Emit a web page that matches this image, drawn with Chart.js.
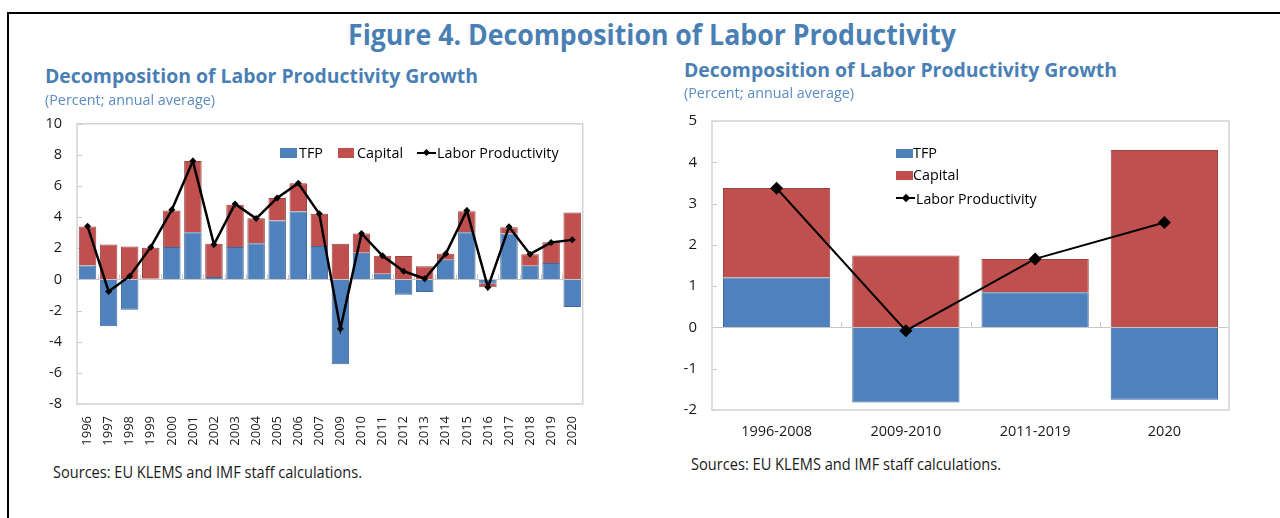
<!DOCTYPE html>
<html><head><meta charset="utf-8">
<script src="https://cdn.jsdelivr.net/npm/chart.js@4.4.1/dist/chart.umd.min.js"></script>
<style>
html,body{margin:0;padding:0;background:#fff;width:1280px;height:518px;overflow:hidden;font-family:'Open Sans',sans-serif;}
#frameTop{position:absolute;left:7px;top:11.7px;width:1273px;height:2px;background:#000;}
#frameLeft{position:absolute;left:7.3px;top:11.7px;width:2px;height:507px;background:#000;}
.t{position:absolute;white-space:nowrap;line-height:1;transform-origin:0 0;}
.cv{position:absolute;}
.sw{position:absolute;}
.ls{position:absolute;height:2px;background:#000;}
.ld{position:absolute;background:#000;transform:rotate(45deg);}
</style></head><body>
<div id="frameTop"></div><div id="frameLeft"></div>
<canvas id="c1" class="cv" width="580" height="358" style="left:20px;top:100px;width:580px;height:358px"></canvas>
<canvas id="c2" class="cv" width="590" height="353" style="left:660px;top:97px;width:590px;height:353px"></canvas>
<script>
// ---------- data ----------
const years = ['1996','1997','1998','1999','2000','2001','2002','2003','2004','2005','2006','2007',
               '2009','2010','2011','2012','2013','2014','2015','2016','2017','2018','2019','2020'];
const tfpYear     = [0.9,-3.0,-1.94,0.04,2.09,3.03,0.15,2.09,2.33,3.78,4.36,2.14,
                     -5.45,1.71,0.36,-0.98,-0.81,1.26,3.03,-0.28,2.95,0.88,1.05,-1.77];
const capitalYear = [2.5,2.24,2.12,1.99,2.33,4.57,2.14,2.7,1.6,1.45,1.82,2.07,
                     2.29,1.24,1.16,1.5,0.85,0.39,1.35,-0.22,0.4,0.74,1.34,4.29];
const lpYear      = [3.42,-0.77,0.21,2.07,4.47,7.6,2.24,4.85,3.91,5.23,6.18,4.21,
                     -3.16,2.95,1.52,0.53,0.04,1.65,4.42,-0.51,3.38,1.62,2.37,2.54];
const yTicksLeft = {min:-8, max:10, step:2};

const periods = ['1996-2008','2009-2010','2011-2019','2020'];
const tfpPeriod     = [1.21,-1.82,0.85,-1.75];
const capitalPeriod = [2.17,1.74,0.81,4.3];
const lpPeriod      = [3.37,-0.08,1.66,2.54];
const yTicksRight = {min:-2, max:5, step:1};

const seriesNames = ['TFP','Capital','Labor Productivity'];

// ---------- styles ----------
const BLUE='#4F81BD', RED='#C0504D', TITLE='#4a7fb5', SUB='#5b8cc2';
const FONT="'Open Sans', sans-serif";

// ---------- text helper ----------
const mctx=document.createElement('canvas').getContext('2d');
function placeText(txt,x,baseline,width,cap,weight,color){
  const size=cap/0.714;
  mctx.font=`${weight} ${size}px ${FONT}`;
  const w=mctx.measureText(txt).width;
  const el=document.createElement('div');
  el.className='t'; el.textContent=txt;
  el.style.fontFamily=FONT; el.style.fontWeight=weight; el.style.fontSize=size+'px';
  el.style.lineHeight='1'; el.style.color=color;
  el.style.left=x+'px'; el.style.top=(baseline-0.888*size)+'px';
  el.style.transform=`scaleX(${width/w})`;
  document.body.appendChild(el);
}
placeText('Figure 4. Decomposition of Labor Productivity',348,46.5,608,21,700,TITLE);
placeText('Decomposition of Labor Productivity Growth',45,84,433,13.5,700,TITLE);
placeText('(Percent; annual average)',45,105.5,170,10.3,400,SUB);
placeText('Decomposition of Labor Productivity Growth',684,77.5,433,13.5,700,TITLE);
placeText('(Percent; annual average)',684,98.5,170,10.3,400,SUB);
placeText('Sources: EU KLEMS and IMF staff calculations.',53,479,309,11,400,'#1a1a1a');
placeText('Sources: EU KLEMS and IMF staff calculations.',691,470.5,310,11,400,'#1a1a1a');

function box(cls,x,y,w,h,bg){const d=document.createElement('div');d.className=cls;
  d.style.left=x+'px';d.style.top=y+'px';d.style.width=w+'px';d.style.height=h+'px';
  if(bg)d.style.background=bg;document.body.appendChild(d);}
// left legend
box('sw',280,148.3,16.7,10,BLUE);
placeText(seriesNames[0],298.5,158.5,24,10.8,400,'#000');
box('sw',337.7,148.3,16.7,10,RED);
placeText(seriesNames[1],356.7,158.5,46,10.8,400,'#000');
box('ls',416.7,152.3,19,2); box('ld',423.5,150.3,5,5);
placeText(seriesNames[2],436.7,158.5,121.6,10.8,400,'#000');
// right legend
box('sw',896,148.5,16.5,9.5,BLUE);
placeText(seriesNames[0],913,158.5,24,10.8,400,'#000');
box('sw',896,170.8,16.5,9.5,RED);
placeText(seriesNames[1],913,180.8,46,10.8,400,'#000');
box('ls',896,197.3,19,2); box('ld',902.5,194.8,6,6);
placeText(seriesNames[2],916,204.5,120.7,10.8,400,'#000');

// ---------- chart plugin: plot box, zero-line ticks, inward y ticks ----------
const framePlugin={
  id:'frame',
  beforeDatasetsDraw(chart){
    const {ctx,chartArea:a,scales:{x,y}}=chart;
    ctx.save();
    ctx.strokeStyle='#c8c8c8';ctx.lineWidth=1;
    const y0=y.getPixelForValue(0);
    const n=chart.data.labels.length;
    ctx.beginPath();
    for(let i=0;i<n-1;i++){
      const xb=Math.round((x.getPixelForValue(i)+x.getPixelForValue(i+1))/2)+0.5;
      ctx.moveTo(xb,y0);ctx.lineTo(xb,y0-5);
    }
    y.ticks.forEach(t=>{const py=Math.round(y.getPixelForValue(t.value))+0.5;
      ctx.moveTo(a.left,py);ctx.lineTo(a.left+5,py);});
    ctx.stroke();ctx.restore();
  },
  afterDraw(chart){
    const {ctx,chartArea:a}=chart;
    ctx.save();ctx.strokeStyle='#d3d3d3';ctx.lineWidth=1.5;
    ctx.strokeRect(a.left,a.top,a.right-a.left,a.bottom-a.top);ctx.restore();
  }
};

function makeChart(id,labels,tfp,cap,lp,yt,cfg){
  return new Chart(document.getElementById(id),{
    type:'bar',
    data:{labels:labels,datasets:[
      {type:'line',label:seriesNames[2],data:lp,stack:'lp',order:0,borderColor:'#000',backgroundColor:'#000',
       borderWidth:cfg.lw,pointStyle:'rectRot',pointRadius:cfg.pr,pointBorderWidth:0,tension:0},
      {label:seriesNames[0],data:tfp,stack:'bars',order:1,backgroundColor:BLUE,borderColor:'#41699b',borderWidth:1,
       barPercentage:0.83,categoryPercentage:1},
      {label:seriesNames[1],data:cap,stack:'bars',order:1,backgroundColor:RED,borderColor:'#9b4240',borderWidth:1,
       barPercentage:0.83,categoryPercentage:1}
    ]},
    options:{
      responsive:false,animation:false,devicePixelRatio:1,
      layout:{padding:cfg.pad},
      plugins:{legend:{display:false},tooltip:{enabled:false}},
      scales:{
        x:{stacked:true,grid:{display:false,drawTicks:false},border:{display:false},
           ticks:{color:'#1a1a1a',font:{family:FONT,size:cfg.xfs},padding:cfg.xpad,
                  maxRotation:cfg.rot,minRotation:cfg.rot,autoSkip:false},
           afterFit(s){s.height=cfg.xh;}},
        y:{stacked:true,min:yt.min,max:yt.max,
           grid:{drawTicks:false,color:c=>c.tick&&c.tick.value===0?'#c8c8c8':'rgba(0,0,0,0)',lineWidth:1},
           border:{display:false},
           ticks:{stepSize:yt.step,color:'#1a1a1a',font:{family:FONT,size:cfg.yfs},padding:cfg.ypad},
           afterFit(s){s.width=cfg.yw;}}
      }
    },
    plugins:[framePlugin]
  });
}
makeChart('c1',years,tfpYear,capitalYear,lpYear,yTicksLeft,
  {lw:2.5,pr:3.5,pad:{top:7,right:10,left:0,bottom:0},xfs:13,xpad:12,rot:90,xh:54,yfs:14.5,ypad:15,yw:57});
makeChart('c2',periods,tfpPeriod,capitalPeriod,lpPeriod,yTicksRight,
  {lw:2,pr:6.5,pad:{top:7,right:21,left:0,bottom:0},xfs:14.5,xpad:13.5,rot:0,xh:40,yfs:15,ypad:15,yw:52});
</script>
</body></html>
